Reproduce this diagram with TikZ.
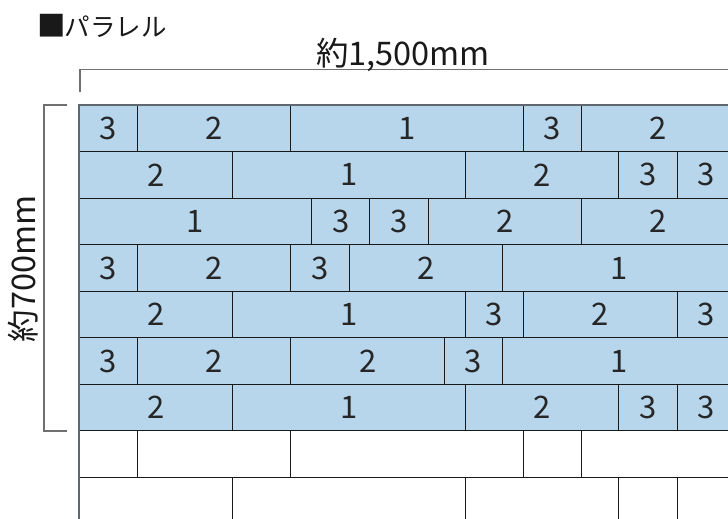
\documentclass[tikz,border=0pt]{standalone}
\usepackage{fontspec}
\setmainfont{Noto Sans CJK JP}
\definecolor{tileblue}{RGB}{183,214,236}
\definecolor{tileline}{RGB}{25,25,25}
\definecolor{dimgray}{RGB}{112,112,112}
\definecolor{edgegray}{RGB}{95,104,112}
\tikzset{
  tile/.style={draw=tileline, line width=1pt, inner sep=0pt, outer sep=0pt, minimum height=46.57pt,
    anchor=north west, font=\fontsize{31}{31}\selectfont, text=black!85},
  bluetile/.style={tile, fill=tileblue},
  whitetile/.style={tile, fill=white},
  dimline/.style={draw=dimgray, line width=1.4pt},
  edgeline/.style={draw=edgegray, line width=1.6pt},
  label/.style={inner sep=0pt, text=black!90},
}
\newcommand\tilerow[4]{%
  \xdef\runx{79}%
  \foreach \t [count=\k] in {#4}{%
    \pgfmathsetmacro\tw{ifthenelse(\t==1,232.6,ifthenelse(\t==2,153.6,58.2))}%
    \pgfmathsetmacro\ty{105+(#1-1)*46.57}%
    \node[#2, minimum width=\tw pt] (r#1t\k) at (\runx,\ty) {\ifnum#3=1 \t\fi};
    \pgfmathsetmacro\nx{\runx+\tw}\xdef\runx{\nx}%
  }}
\begin{document}
\begin{tikzpicture}[x=1pt,y=-1pt]
\useasboundingbox (0,0) rectangle (728,519);
\clip (0,0) rectangle (728,519);
\fill[white] (0,0) rectangle (728,519);
% tiles
\tilerow{1}{bluetile}{1}{3,2,1,3,2}
\tilerow{2}{bluetile}{1}{2,1,2,3,3}
\tilerow{3}{bluetile}{1}{1,3,3,2,2}
\tilerow{4}{bluetile}{1}{3,2,3,2,1}
\tilerow{5}{bluetile}{1}{2,1,3,2,3}
\tilerow{6}{bluetile}{1}{3,2,2,3,1}
\tilerow{7}{bluetile}{1}{2,1,2,3,3}
\tilerow{8}{whitetile}{0}{3,2,1,3,2}
\tilerow{9}{whitetile}{0}{2,1,2,3,3}
% outer edges
\coordinate (gtl) at (79,105);
\coordinate (gtr) at (740,105);
\coordinate (gbl) at (79,530);
\draw[edgeline] (gbl) -- (gtl) -- (gtr);
% width dimension bracket
\coordinate (wtick) at (80,92);
\coordinate (wend) at (740,69.5);
\draw[dimline] (wtick) |- (wend);
% height dimension bracket
\coordinate (htop) at (67,105);
\coordinate (hbot) at (67,431);
\coordinate (hcorner) at (44,105);
\draw[dimline] (htop) -- (hcorner) |- (hbot);
% labels
\node[label, anchor=west, font=\fontsize{25.5}{25.5}\selectfont] (title) at (37.5,25.5)
  {{\fontsize{28.5}{28.5}\selectfont ■}\hspace{-1.5pt}パラレル};
\node[label, anchor=base, font=\fontsize{32.5}{32.5}\selectfont] (wlabel) at (403,65.5) {約1,500mm};
\node[label, anchor=base, rotate=90, font=\fontsize{32.5}{32.5}\selectfont] (hlabel) at (35.5,269) {約700mm};
\end{tikzpicture}
\end{document}
